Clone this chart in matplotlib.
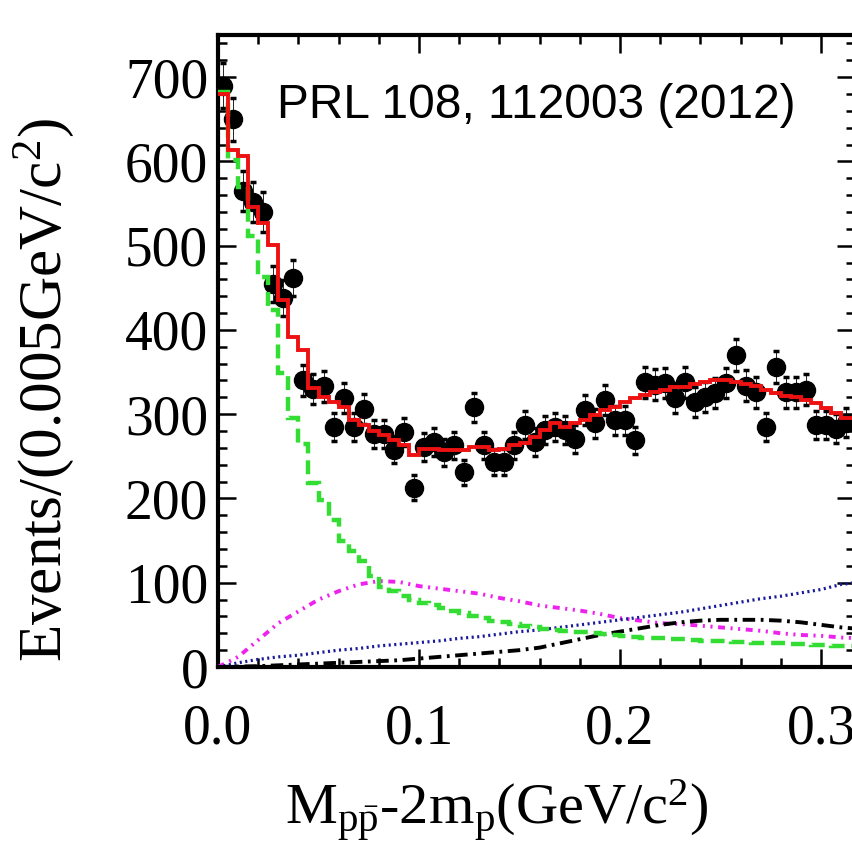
import numpy as np
import matplotlib
matplotlib.use("Agg")
import matplotlib.pyplot as plt
from matplotlib.ticker import MultipleLocator, FormatStrFormatter

plt.rcParams['font.family'] = ['Liberation Serif', 'DejaVu Serif']
plt.rcParams['mathtext.fontset'] = 'custom'
plt.rcParams['mathtext.rm'] = 'Liberation Serif'
plt.rcParams['mathtext.it'] = 'Liberation Serif:italic'
plt.rcParams['lines.scale_dashes'] = False

bin_width = 0.005

# measured events per 5 MeV bin
counts = [690, 650, 565, 552, 540, 455, 438, 462, 340, 330,
          333, 285, 319, 285, 306, 277, 276, 258, 279, 213,
          261, 267, 255, 263, 231, 308, 263, 243, 243, 263,
          287, 267, 281, 285, 281, 271, 305, 289, 317, 293,
          293, 269, 338, 335, 337, 319, 338, 314, 320, 325,
          337, 370, 334, 326, 285, 356, 326, 326, 329, 287,
          287, 283, 290]

# total fit (histogram)
fit_total = [680, 614, 606, 546, 527, 501, 436, 392, 376, 331,
             321, 314, 308, 293, 287, 280, 275, 269, 263, 251,
             259, 259, 258, 257, 257, 261, 261, 257, 259, 263,
             266, 273, 281, 289, 285, 289, 293, 299, 305, 309,
             314, 319, 323, 326, 329, 332, 332, 336, 338, 340,
             340, 338, 336, 334, 329, 325, 322, 320, 317, 313,
             307, 301, 295, 295]

# threshold component (histogram)
fit_threshold = [682, 602, 570, 511, 463, 424, 349, 296, 265, 218,
                 198, 174, 150, 138, 126, 108, 95, 90, 84, 80,
                 76, 74, 70, 67, 64, 61, 58, 55, 53, 51,
                 49, 47, 45, 44, 43, 42, 41, 40, 39, 38,
                 37, 36, 35, 35, 34, 33, 33, 32, 31, 31,
                 31, 30, 30, 29, 29, 28, 28, 27, 27, 26,
                 26, 25, 25, 25]

# smooth components sampled every 10 MeV
curve_m = [0.00, 0.01, 0.02, 0.03, 0.04, 0.05, 0.06, 0.07, 0.08, 0.09,
           0.10, 0.11, 0.12, 0.13, 0.14, 0.15, 0.16, 0.17, 0.18, 0.19,
           0.20, 0.21, 0.22, 0.23, 0.24, 0.25, 0.26, 0.27, 0.28, 0.29,
           0.30, 0.31, 0.32]
comp_magenta = [0, 12, 32, 52, 66, 80, 90, 98, 102, 101,
                96, 93, 90, 87, 82, 78, 73, 70, 67, 63,
                58, 55, 52, 51, 49, 47, 45, 43, 40, 38,
                37, 35, 34]
comp_blue = [0, 5, 9, 12, 14, 17, 20, 22, 25, 27,
             29, 31, 34, 36, 39, 42, 44, 47, 50, 53,
             56, 59, 62, 65, 69, 73, 77, 81, 84, 88,
             92, 98, 101]
comp_black = [0, 0.5, 1, 2, 3, 4, 5, 6, 7, 8,
              10, 12, 14, 16, 18, 20, 23, 28, 33, 38,
              42, 46, 50, 53, 55, 56, 56, 56, 55, 53,
              50, 47, 45]

counts = np.array(counts, dtype=float)
centers = (np.arange(len(counts)) + 0.5) * bin_width
edges = np.arange(len(fit_total) + 1) * bin_width

fig = plt.figure(figsize=(8.52, 8.46), dpi=100)
# right edge of the frame runs just past the image border
ax = fig.add_axes([218 / 852, 1 - 667 / 846, 637 / 852, 632 / 846])

ax.errorbar(centers, counts, yerr=np.sqrt(counts), fmt='o', color='black',
            ms=13, elinewidth=0.6, capsize=2.5, capthick=2.5, zorder=2)

ax.plot(curve_m, comp_magenta, color='#ee22ee', lw=2.8,
        dashes=(5, 4, 1.5, 4, 1.5, 4), zorder=3)
ax.plot(curve_m, comp_blue, color='#1a1a9a', lw=2.3,
        dashes=(1.5, 2.5), zorder=3)
ax.plot(curve_m, comp_black, color='black', lw=2.8,
        dashes=(9, 4, 2, 4), zorder=3)
ax.stairs(fit_threshold, edges, baseline=None, color='#33dd33', lw=3.2,
          linestyle=(0, (10, 5)), zorder=4)
ax.stairs(fit_total, edges, baseline=None, color='#ee1111', lw=2.8, zorder=5)

ax.set_xlim(0, 0.3169)
ax.set_ylim(0, 750)
ax.xaxis.set_major_locator(MultipleLocator(0.1))
ax.xaxis.set_minor_locator(MultipleLocator(0.02))
ax.yaxis.set_major_locator(MultipleLocator(100))
ax.yaxis.set_minor_locator(MultipleLocator(20))
ax.xaxis.set_major_formatter(FormatStrFormatter('%.1f'))

ax.tick_params(which='both', direction='in', top=True, right=True,
               width=1.8, labelsize=40)
ax.tick_params(which='major', length=13)
ax.tick_params(which='minor', length=6.5)
ax.tick_params(axis='x', which='major', pad=26)
ax.tick_params(axis='y', which='major', pad=7)
for sp in ax.spines.values():
    sp.set_linewidth(3)

fig.text(44 / 852, 1 - 390 / 846, r'Events/(0.005GeV/c$^{2}$)', rotation=90,
         ha='center', va='center', fontsize=44)
fig.text(497 / 852, 1 - 825 / 846,
         r'M$_{\mathrm{p\bar{p}}}$-2m$_{\mathrm{p}}$(GeV/c$^{2}$)',
         ha='center', va='baseline', fontsize=42)

ax.text(277 / 852, 1 - 105 / 846, 'PRL 108, 112003 (2012)',
        transform=fig.transFigure, family='Liberation Sans', fontsize=34.5,
        ha='left', va='center', zorder=6)

fig.savefig('out.png', dpi=100)
